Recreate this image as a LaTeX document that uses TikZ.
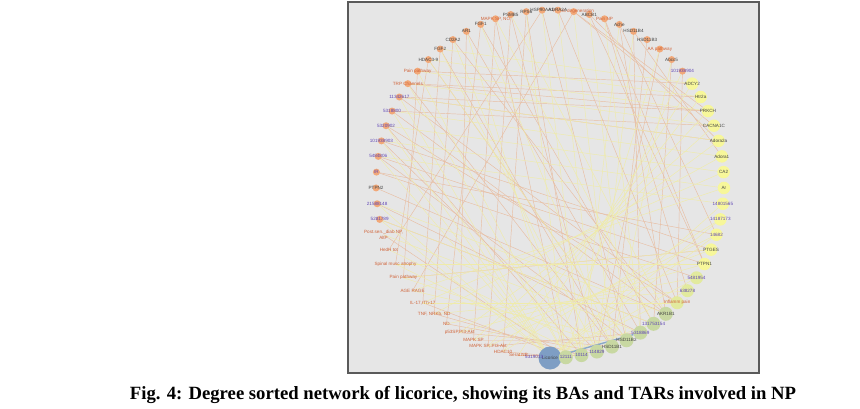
\documentclass[tikz,border=0pt]{standalone}
\usepackage{xcolor}
\usepackage{fontspec}
\setmainfont{Liberation Serif}
\newfontfamily\labelFont{Liberation Sans}
\usepackage{tikz}
\usetikzlibrary{positioning}
\pgfdeclarelayer{panel}
\pgfdeclarelayer{links}
\pgfsetlayers{panel,links,main}
\definecolor{panelGray}{HTML}{E6E6E6}
\definecolor{frameGray}{HTML}{5A5A5A}
\definecolor{hubBlue}{HTML}{7E9EC4}
\definecolor{dotGreen}{HTML}{C8D8A2}
\definecolor{dotLime}{HTML}{E2EA9E}
\definecolor{dotYellow}{HTML}{F7F79A}
\definecolor{dotOrange}{HTML}{F2A878}
\definecolor{geneGray}{HTML}{444444}
\definecolor{molPurple}{HTML}{5F45B5}
\definecolor{pathOrange}{HTML}{D0643A}
\definecolor{linkYellow}{HTML}{EFEBAA}
\definecolor{linkOrange}{HTML}{E8BEA2}
\definecolor{linkBlue}{HTML}{8AA8C8}
\tikzset{
  netDot/.style={
    circle,
    inner sep=0pt,
    draw=none
  },
  hubDot/.style={netDot, fill=hubBlue, minimum size=23pt},
  greenDot/.style={netDot, fill=dotGreen, minimum size=14pt},
  limeDot/.style={netDot, fill=dotLime, minimum size=13pt},
  yellowDot/.style={netDot, fill=dotYellow, minimum size=12.5pt},
  orangeDot/.style={netDot, fill=dotOrange, minimum size=7pt},
  noDot/.style={netDot, minimum size=1pt},
  netLabel/.style={
    inner sep=0pt,
    align=center,
    font=\labelFont\fontsize{4.6}{5.3}\selectfont
  },
  geneText/.style={netLabel, text=geneGray},
  molText/.style={netLabel, text=molPurple},
  pathText/.style={netLabel, text=pathOrange},
  yLink/.style={draw=linkYellow, line width=0.45pt},
  oLink/.style={draw=linkOrange, line width=0.45pt},
  hubLink/.style={draw=linkBlue, line width=1.4pt},
  panelBox/.style={
    fill=panelGray,
    draw=frameGray,
    line width=1.6pt
  },
  captionText/.style={
    anchor=base,
    inner sep=0pt,
    font=\bfseries\fontsize{18.7}{21}\selectfont
  }
}

\begin{document}
\begin{tikzpicture}[x=1pt, y=-1pt]
    \useasboundingbox (0,0) rectangle (860,409);
    \begin{pgfonlayer}{panel}
        \draw[panelBox] (348,2) rectangle (759,373);
    \end{pgfonlayer}

    % circle layout, sorted by degree
    \begin{scope}[shift={(550,184)}]
        \foreach \i/\lab/\dot/\txt in {
            0/Licorice/hubDot/geneText,
            1/12111/greenDot/molText,
            2/10114/greenDot/molText,
            3/114829/greenDot/molText,
            4/HSD11B1/greenDot/geneText,
            5/HSD11B2/greenDot/geneText,
            6/5318869/greenDot/molText,
            7/131753154/greenDot/molText,
            8/AKR1B1/greenDot/geneText,
            9/Inflamm pain/limeDot/pathText,
            10/638278/limeDot/molText,
            11/5481954/limeDot/molText,
            12/PTPN1/yellowDot/geneText,
            13/PTGES/yellowDot/geneText,
            14/14682/yellowDot/molText,
            15/14187173/yellowDot/molText,
            16/14801565/yellowDot/molText,
            17/Ar/yellowDot/geneText,
            18/CA2/yellowDot/geneText,
            19/Adora1/yellowDot/geneText,
            20/Adora2a/yellowDot/geneText,
            21/CACNA1C/yellowDot/geneText,
            22/PRKCH/yellowDot/geneText,
            23/Htr2a/yellowDot/geneText,
            24/ADCY2/yellowDot/geneText,
            25/101938904/orangeDot/molText,
            26/Abcc5/orangeDot/geneText,
            27/AA pathway/orangeDot/pathText,
            28/HSD11B3/orangeDot/geneText,
            29/HSD11B4/orangeDot/geneText,
            30/Ache/orangeDot/geneText,
            31/Pain NP/orangeDot/pathText,
            32/ABCB1/orangeDot/geneText,
            33/Neuro degeneration/orangeDot/pathText,
            34/ADRA2A/orangeDot/geneText,
            35/HSP90AA1/orangeDot/geneText,
            36/RPS6/orangeDot/geneText,
            37/PSMB5/orangeDot/geneText,
            38/{MAPK SP, NO}/orangeDot/pathText,
            39/FGF1/orangeDot/geneText,
            40/AR1/orangeDot/geneText,
            41/CD2A2/orangeDot/geneText,
            42/FGF2/orangeDot/geneText,
            43/HDAC3-9/orangeDot/geneText,
            44/Pain pathway/orangeDot/pathText,
            45/TRP Channels/orangeDot/pathText,
            46/11342617/orangeDot/molText,
            47/5318800/orangeDot/molText,
            48/5320902/orangeDot/molText,
            49/101938903/orangeDot/molText,
            50/5484806/orangeDot/molText,
            51/IR/orangeDot/molText,
            52/PTPN2/orangeDot/geneText,
            53/21588148/orangeDot/molText,
            54/5281789/orangeDot/molText,
            55/{Post.sen.\_diab NP,\\AltP}/noDot/pathText,
            56/HedH tot/noDot/pathText,
            57/Spinal musc atrophy/noDot/pathText,
            58/Pain pathway/noDot/pathText,
            59/AGE RAGE/noDot/pathText,
            60/{IL-17,rTh-17}/noDot/pathText,
            61/{TNF, NRKb, ND}/noDot/pathText,
            62/ND/noDot/pathText,
            63/{p53SP,PI3-Akt}/noDot/pathText,
            64/MAPK SP/noDot/pathText,
            65/{MAPK SP, PI3-Akt}/noDot/pathText,
            66/HDAC10/noDot/pathText,
            67/Serat NB/noDot/pathText,
            68/5319013/noDot/molText}{
            \pgfmathsetmacro\ang{90-\i*5.21739}
            \node[\dot] (n\i) at (\ang:174) {};
            \node[\txt] (t\i) at (n\i) {\lab};
        }
    \end{scope}

    % interactions
    \begin{pgfonlayer}{links}
        \foreach \a/\b in {45/23, 45/22, 44/24, 46/22, 47/21, 46/20, 51/11, 49/13, 48/9, 50/12,
            43/5, 42/4, 41/8, 40/6, 39/7, 38/1, 37/3, 36/2, 35/5, 34/9, 33/21, 33/22, 32/20,
            32/12, 31/10, 30/8, 29/6, 28/4, 27/3, 26/7, 25/9, 39/62, 40/63, 41/61, 42/60,
            38/64, 37/65, 36/66, 35/56, 43/57, 44/58, 33/59, 31/12, 30/14, 29/19, 47/8, 46/9,
            45/4, 48/2, 49/3, 50/5, 54/7, 53/6, 52/8, 55/1, 57/12, 58/13, 60/1, 61/2, 62/3,
            63/4, 64/5, 65/6, 66/1, 67/2, 68/3, 51/14}
            \draw[oLink] (n\a.center) -- (n\b.center);
        \foreach \a/\b in {1/44, 1/45, 1/40, 2/41, 2/57, 3/56, 3/42, 4/58, 4/39, 5/59, 5/43,
            6/55, 7/54, 7/38, 8/53, 8/37, 9/60, 10/61, 11/62, 12/63, 13/64, 14/65, 15/66,
            16/50, 17/49, 18/48, 19/47, 20/46, 21/45, 22/44, 23/43, 24/42, 12/57, 13/58,
            17/59, 18/60, 19/61, 20/63, 21/64, 22/65, 23/66, 24/67, 0/46, 0/47, 0/48, 0/49,
            0/50, 0/53, 0/54, 0/68, 0/25, 0/14, 0/15, 0/16, 0/10, 0/11, 0/7, 0/3, 0/2, 0/1,
            1/36, 2/35, 3/34, 4/33, 5/32, 6/31, 1/27, 2/30, 3/29, 4/26}
            \draw[yLink] (n\a.center) -- (n\b.center);
        \draw[hubLink] (n0) -- (n6);
    \end{pgfonlayer}

    \node[captionText] (caption) at (463,399) {Fig. 4: Degree sorted network of licorice, showing its BAs and TARs involved in NP};
\end{tikzpicture}
\end{document}
